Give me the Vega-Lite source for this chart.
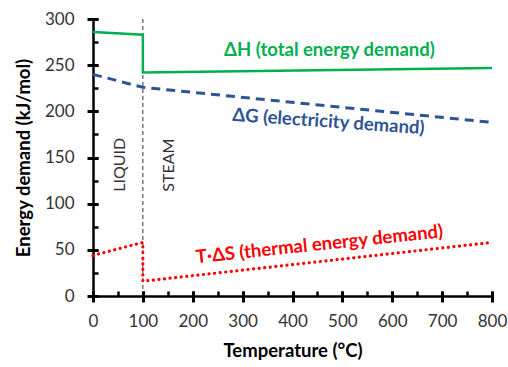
{
  "$schema": "https://vega.github.io/schema/vega-lite/v6.json",
  "width": 399,
  "height": 277,
  "autosize": "none",
  "padding": {"left": 93, "top": 19, "right": 16, "bottom": 71},
  "background": "white",
  "config": {"view": {"stroke": null}, "font": "Lato"},
  "datasets": {
    "curves": [
      {"s": "ΔH", "i": 1, "t": 0, "v": 286},
      {"s": "ΔH", "i": 2, "t": 100, "v": 283},
      {"s": "ΔH", "i": 3, "t": 100, "v": 242},
      {"s": "ΔH", "i": 4, "t": 800, "v": 247},
      {"s": "ΔG", "i": 1, "t": 0, "v": 240},
      {"s": "ΔG", "i": 2, "t": 100, "v": 226},
      {"s": "ΔG", "i": 3, "t": 800, "v": 188},
      {"s": "TΔS", "i": 1, "t": 0, "v": 44},
      {"s": "TΔS", "i": 2, "t": 100, "v": 58},
      {"s": "TΔS", "i": 3, "t": 100, "v": 16},
      {"s": "TΔS", "i": 4, "t": 800, "v": 58}
    ]
  },
  "layer": [
    {
      "data": {"values": [{"t": 100, "v": 0, "v2": 300}]},
      "mark": {"type": "rule", "color": "black", "strokeWidth": 0.8, "strokeDash": [4, 3]},
      "encoding": {
        "x": {"field": "t", "type": "quantitative", "scale": {"domain": [0, 800], "nice": false},
          "axis": {"orient": "bottom", "values": [0,50,100,150,200,250,300,350,400,450,500,550,600,650,700,750,800], "tickSize": -5, "tickWidth": 2.5, "tickColor": "black", "domain": true, "domainColor": "black", "domainWidth": 2.5, "labels": false, "title": null, "grid": false}},
        "y": {"field": "v", "type": "quantitative", "scale": {"domain": [0, 300], "nice": false},
          "axis": {"orient": "left", "values": [0,25,50,75,100,125,150,175,200,225,250,275,300], "tickSize": -5, "tickWidth": 2.5, "tickColor": "black", "domain": true, "domainColor": "black", "domainWidth": 2.5, "labels": false, "title": null, "grid": false}},
        "y2": {"field": "v2"}
      }
    },
    {
      "data": {"name": "curves"},
      "transform": [{"filter": "datum.s === 'ΔH'"}],
      "mark": {"type": "line", "color": "#00B050", "strokeWidth": 2.5},
      "encoding": {
        "x": {"field": "t", "type": "quantitative",
          "axis": {"orient": "bottom", "values": [0,100,200,300,400,500,600,700,800], "offset": -5, "tickSize": 11, "tickWidth": 3, "tickColor": "black", "domain": false, "grid": false, "labelFlush": false, "labelFont": "Lato", "labelFontSize": 17, "labelColor": "#333333", "labelPadding": 11, "title": "Temperature (°C)", "titleFont": "Lato", "titleFontSize": 18.5, "titleFontWeight": "bold", "titleColor": "black", "titlePadding": 12}},
        "y": {"field": "v", "type": "quantitative",
          "axis": {"orient": "left", "values": [0,50,100,150,200,250,300], "offset": -5, "tickSize": 11, "tickWidth": 3, "tickColor": "black", "domain": false, "grid": false, "labelFlush": false, "labelFont": "Lato", "labelFontSize": 17, "labelColor": "#333333", "labelPadding": 13, "title": "Energy demand (kJ/mol)", "titleFont": "Lato", "titleFontSize": 18.5, "titleFontWeight": "bold", "titleColor": "black", "titlePadding": 11}},
        "order": {"field": "i", "type": "quantitative"}
      }
    },
    {
      "data": {"name": "curves"},
      "transform": [{"filter": "datum.s === 'ΔG'"}],
      "mark": {"type": "line", "color": "#2F5496", "strokeWidth": 3, "strokeDash": [9, 6]},
      "encoding": {
        "x": {"field": "t", "type": "quantitative", "axis": null},
        "y": {"field": "v", "type": "quantitative", "axis": null},
        "order": {"field": "i", "type": "quantitative"}
      }
    },
    {
      "data": {"name": "curves"},
      "transform": [{"filter": "datum.s === 'TΔS'"}],
      "mark": {"type": "line", "color": "#FF0000", "strokeWidth": 3.2, "strokeDash": [0.1, 5.5], "strokeCap": "round"},
      "encoding": {
        "x": {"field": "t", "type": "quantitative", "axis": null},
        "y": {"field": "v", "type": "quantitative", "axis": null},
        "order": {"field": "i", "type": "quantitative"}
      }
    },
    {
      "data": {"values": [{"label": "ΔH (total energy demand)", "t": 474, "v": 266}]},
      "mark": {"type": "text", "color": "#00B050", "font": "Lato", "fontSize": 18.5, "fontWeight": "bold", "align": "center", "baseline": "middle"},
      "encoding": {
        "x": {"field": "t", "type": "quantitative", "axis": null},
        "y": {"field": "v", "type": "quantitative", "axis": null},
        "text": {"field": "label"}
      }
    },
    {
      "data": {"values": [{"label": "ΔG (electricity demand)", "t": 472, "v": 189}]},
      "mark": {"type": "text", "color": "#2F5496", "font": "Lato", "fontSize": 18.5, "fontWeight": "bold", "align": "center", "baseline": "middle", "angle": 4},
      "encoding": {
        "x": {"field": "t", "type": "quantitative", "axis": null},
        "y": {"field": "v", "type": "quantitative", "axis": null},
        "text": {"field": "label"}
      }
    },
    {
      "data": {"values": [{"label": "T·ΔS (thermal energy demand)", "t": 454, "v": 56}]},
      "mark": {"type": "text", "color": "#FF0000", "font": "Lato", "fontSize": 18.5, "fontWeight": "bold", "align": "center", "baseline": "middle", "angle": -6},
      "encoding": {
        "x": {"field": "t", "type": "quantitative", "axis": null},
        "y": {"field": "v", "type": "quantitative", "axis": null},
        "text": {"field": "label"}
      }
    },
    {
      "data": {"values": [{"label": "LIQUID", "t": 54, "v": 113}, {"label": "STEAM", "t": 152, "v": 113}]},
      "mark": {"type": "text", "color": "#333333", "font": "Lato", "fontSize": 16, "align": "left", "baseline": "middle", "angle": 270},
      "encoding": {
        "x": {"field": "t", "type": "quantitative", "axis": null},
        "y": {"field": "v", "type": "quantitative", "axis": null},
        "text": {"field": "label"}
      }
    }
  ],
  "resolve": {"axis": {"x": "independent", "y": "independent"}}
}
